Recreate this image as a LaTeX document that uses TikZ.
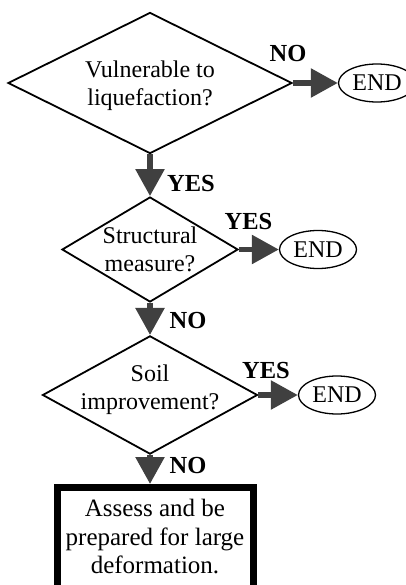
\documentclass[tikz,border=0pt]{standalone}
\usepackage{fontspec}
\setmainfont{Liberation Serif}
\usetikzlibrary{positioning,shapes.geometric,arrows.meta}
\tikzstyle{pixels} = [x = 1pt, y = -1pt, every node/.style={font=\fontsize{24}{28}\selectfont}]
\definecolor{flowColor}{RGB}{64,64,64}
\tikzstyle{decision} = [diamond, draw=black, line width=1.8pt, inner sep=-20pt, align=center]
\tikzstyle{endStyle} = [ellipse, draw=black, line width=1.3pt, inner sep=0pt, minimum width=77pt, minimum height=38pt]
\tikzstyle{actionStyle} = [rectangle, draw=black, line width=7pt, align=center, inner xsep=3pt, inner ysep=12pt, minimum width=196pt, text depth=30pt, font=\fontsize{25}{28.5}\selectfont]
\tikzstyle{flowArrow} = [draw=flowColor, line width=5.5pt, -{Triangle[length=27pt, width=28pt]}]
\tikzstyle{answer} = [font=\fontsize{24.5}{28}\selectfont\bfseries, anchor=base]

\begin{document}
\begin{tikzpicture}[pixels]
  \useasboundingbox (0,0) rectangle (406,585);

  \node [decision, minimum width=284pt, minimum height=141pt, text depth=-3pt] (liquefaction) at (150,83) {Vulnerable to\\liquefaction?};
  \node [decision, minimum width=176pt, minimum height=105pt, text depth=-6pt] (structural) at (150,249.5) {Structural\\measure?};
  \node [decision, minimum width=215pt, minimum height=94pt, text depth=15pt] (soil) at (150,395) {Soil\\improvement?};
  \node [actionStyle, anchor=north] (assess) at (155,484) {Assess and be\\prepared for large\\deformation.};

  \node [endStyle] (end1) at (377,83) {END};
  \node [endStyle] (end2) at (318,249.5) {END};
  \node [endStyle] (end3) at (337,395) {END};

  \draw [flowArrow] (liquefaction.east) -- (end1.west);
  \draw [flowArrow] (structural.east) -- (end2.west);
  \draw [flowArrow] (soil.east) -- (end3.west);
  \draw [flowArrow] (liquefaction.south) -- (structural.north);
  \draw [flowArrow] (structural.south) -- (soil.north);
  \draw [flowArrow] (soil.south) -- (soil.south |- assess.north);

  \node [answer] (no1) at (288,62) {NO};
  \node [answer] (yes1) at (191,192) {YES};
  \node [answer] (yes2) at (248.5,229) {YES};
  \node [answer] (no2) at (188,328) {NO};
  \node [answer] (yes3) at (266,378) {YES};
  \node [answer] (no3) at (188,473) {NO};
\end{tikzpicture}
\end{document}
